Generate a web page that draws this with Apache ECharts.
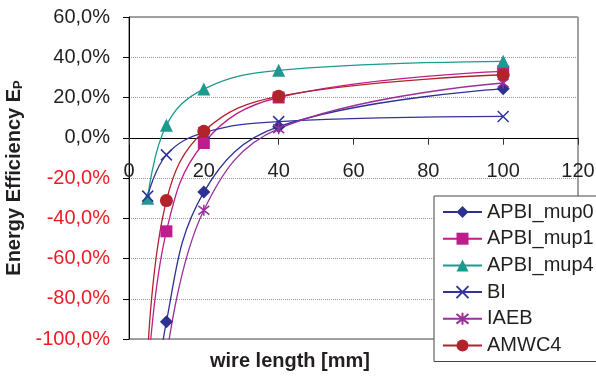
<!DOCTYPE html>
<html>
<head>
<meta charset="utf-8">
<script src="https://cdn.jsdelivr.net/npm/echarts@6/dist/echarts.min.js"></script>
<style>
  html, body { margin: 0; padding: 0; background: #fff; }
  #chart { width: 596px; height: 377px; }
</style>
</head>
<body>
<div id="chart"></div>
<script>
// wire length [mm]
var wireLength = [5, 10, 20, 40, 100];
// energy efficiency in %, null = no point
var apbiMup0 = [-170, -91.4, -27, 5.5, 24.3];
var apbiMup1 = [-120, -46.5, -2.6, 20, 33];
var apbiMup4 = [-30, 6.2, 24.2, 33.5, 38];
var bi = [-29, -8.5, 2.5, 8, 10.6];
var iaeb = [null, -110, -36, 4.5, 27.2];
var amwc4 = [-108, -31.2, 3.2, 20.6, 31.3];

var font = "'Liberation Sans', Arial, sans-serif";
var txt = "#231F20";

var gridTop = 17, gridBottom = 38, chartH = 377;
var yMin = -100, yMax = 60;

function pairs(vals) {
  var out = [];
  for (var i = 0; i < wireLength.length; i++) {
    if (vals[i] !== null) out.push([wireLength[i], vals[i]]);
  }
  return out;
}

function line(name, vals, color, symbol, size, stroked) {
  return {
    name: name,
    type: "line",
    data: pairs(vals),
    smooth: 0.4,
    symbol: symbol,
    symbolSize: size,
    clip: true,
    lineStyle: { color: color, width: 1.3 },
    itemStyle: stroked
      ? { color: color, borderColor: color, borderWidth: 1.5 }
      : { color: color, borderWidth: 0 }
  };
}

// onZero does not kick in here, so lift the x axis up to the 0% line
var plotH = chartH - gridTop - gridBottom;
var zeroOffset = -plotH * (0 - yMin) / (yMax - yMin);

var myChart = echarts.init(document.getElementById("chart"));
myChart.setOption({
  animation: false,
  textStyle: { fontFamily: font },
  title: {
    text: "wire length [mm]",
    left: 210,
    top: 351,
    padding: 0,
    textStyle: { fontSize: 20, fontWeight: "bold", color: txt, fontFamily: font }
  },
  grid: {
    left: 129, top: gridTop, right: 18, bottom: gridBottom,
    outerBoundsMode: "none",
    containLabel: false,
    show: true, borderColor: "#444", borderWidth: 1
  },
  legend: {
    orient: "vertical",
    left: 434,
    top: 196,
    padding: [6, 30, 6, 8],
    itemWidth: 39,
    itemHeight: 15,
    itemGap: 6.7,
    backgroundColor: "#fff",
    borderColor: "#444",
    borderWidth: 1,
    borderRadius: 0,
    textStyle: { fontSize: 20, lineHeight: 20, color: txt, fontFamily: font },
    data: ["APBI_mup0", "APBI_mup1", "APBI_mup4", "BI", "IAEB", "AMWC4"]
  },
  xAxis: {
    type: "value",
    min: 0, max: 120, interval: 20,
    offset: zeroOffset,
    axisLine: { onZero: false, lineStyle: { color: "#000", width: 1 } },
    axisTick: { length: 7, lineStyle: { color: "#333" } },
    axisLabel: { fontSize: 20, color: txt, margin: 24, fontFamily: font },
    splitLine: { show: false }
  },
  yAxis: {
    type: "value",
    min: yMin, max: yMax, interval: 20,
    name: "{a|Energy Efficiency E}{b|P}",
    nameLocation: "middle",
    nameRotate: 90,
    nameGap: 102,
    nameTextStyle: {
      rich: {
        a: { fontSize: 20, fontWeight: "bold", color: txt, fontFamily: font },
        b: { fontSize: 13, fontWeight: "bold", color: txt, fontFamily: font, verticalAlign: "bottom" }
      }
    },
    axisLine: { onZero: false, lineStyle: { color: "#000", width: 1 } },
    axisTick: { length: 6, lineStyle: { color: "#000" } },
    axisLabel: {
      fontSize: 20,
      margin: 19,
      fontFamily: font,
      formatter: function (v) { return v.toFixed(1).replace(".", ",") + "%"; },
      color: function (v) { return Number(v) < 0 ? "#ED1C24" : txt; }
    },
    splitLine: { lineStyle: { color: "#999", type: "dotted", width: 1 } }
  },
  series: [
    line("APBI_mup0", apbiMup0, "#2E3192", "diamond", 13),
    line("APBI_mup1", apbiMup1, "#BE1E8D", "rect", 12),
    line("APBI_mup4", apbiMup4, "#1C9A8F", "triangle", 13),
    line("BI", bi, "#33349A", "path://M0,0L10,10M10,0L0,10", 11, true),
    line("IAEB", iaeb, "#98309A", "path://M1,1L9,9M9,1L1,9M5,0L5,10", 11, true),
    line("AMWC4", amwc4, "#B2232B", "circle", 13)
  ]
});
</script>
</body>
</html>
